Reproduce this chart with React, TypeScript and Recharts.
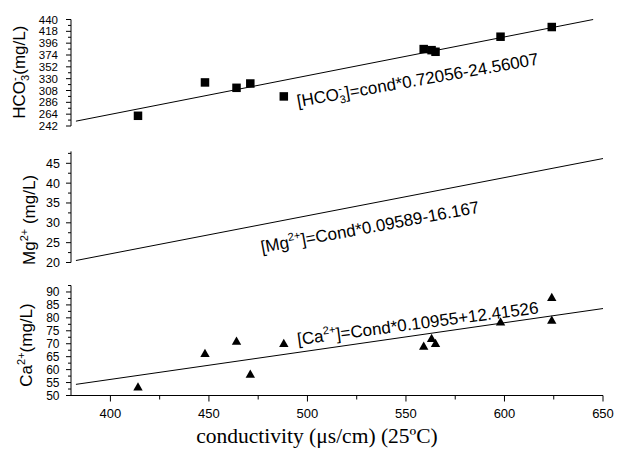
import React from 'react';
import { ComposedChart, Scatter, XAxis, YAxis, ReferenceDot } from 'recharts';

// ---------- data ----------
const hco3Cond = [414, 448, 464, 471, 488, 559, 563, 565, 598, 624];
const hco3Values = [261, 323, 313, 321, 297, 385, 383, 380, 408, 426];

const caCond = [414, 448, 464, 471, 488, 559, 563, 565, 598, 624, 624];
const caValues = [53.4, 66.3, 71.1, 58.3, 70.2, 69.1, 72.1, 70.2, 78.5, 88.0, 79.2];

// regression line end points
const hco3FitCond = [382.5, 645];
const hco3FitValues = [251, 440];
const mgFitCond = [382.5, 650];
const mgFitValues = [20.5, 46.2];
const caFitCond = [382.5, 650];
const caFitValues = [54.3, 83.6];

// ticks
const xTicks = [400, 425, 450, 475, 500, 525, 550, 575, 600, 625, 650];
const xMajor = [400, 450, 500, 550, 600, 650];
const hco3Ticks = [242, 253, 264, 275, 286, 297, 308, 319, 330, 341, 352, 363, 374, 385, 396, 407, 418, 429, 440];
const hco3Major = [242, 264, 286, 308, 330, 352, 374, 396, 418, 440];
const mgTicks = [20, 22.5, 25, 27.5, 30, 32.5, 35, 37.5, 40, 42.5, 45, 47.5];
const mgMajor = [20, 25, 30, 35, 40, 45];
const caTicks = [50, 52.5, 55, 57.5, 60, 62.5, 65, 67.5, 70, 72.5, 75, 77.5, 80, 82.5, 85, 87.5, 90, 92.5];
const caMajor = [50, 55, 60, 65, 70, 75, 80, 85, 90];

const zip = (xs: number[], ys: number[]) => xs.map((x, i) => ({ x, y: ys[i] }));
const hco3Data = zip(hco3Cond, hco3Values);
const caData = zip(caCond, caValues);
const hco3Fit = zip(hco3FitCond, hco3FitValues);
const mgFit = zip(mgFitCond, mgFitValues);
const caFit = zip(caFitCond, caFitValues);

// ---------- styles ----------
const SANS = "'Liberation Sans', Arial, Helvetica, sans-serif";
const SERIF = "'Liberation Serif', 'Times New Roman', serif";
const W = 617;
const X_DOMAIN: [number, number] = [380, 650];

const makeYTick = (majors: number[], gap: number, fs: number) => (props: any) => {
  const { x, y, payload } = props;
  const v = payload.value;
  const isMajor = majors.includes(v);
  return (
    <g>
      <line x1={x} x2={x - (isMajor ? 5 : 3)} y1={y} y2={y} stroke="#000" strokeWidth={1} />
      {isMajor && (
        <text x={x - gap} y={y} dy="0.36em" textAnchor="end" fontSize={fs} fontFamily={SANS} fill="#000">
          {v}
        </text>
      )}
    </g>
  );
};

const XTick = (props: any) => {
  const { x, y, payload } = props;
  const v = payload.value;
  const isMajor = xMajor.includes(v);
  return (
    <g>
      <line x1={x} x2={x} y1={y} y2={y + (isMajor ? 6 : 4)} stroke="#000" strokeWidth={1} />
      {isMajor && (
        <text x={x} y={y + 22.5} textAnchor="middle" fontSize={13} fontFamily={SANS} fill="#000">
          {v}
        </text>
      )}
    </g>
  );
};

const Square = (p: any) => <rect x={p.cx - 4.25} y={p.cy - 4.25} width={8.5} height={8.5} fill="#000" />;
const Triangle = (p: any) => (
  <polygon points={`${p.cx},${p.cy - 4.5} ${p.cx + 4.7},${p.cy + 3.8} ${p.cx - 4.7},${p.cy + 3.8}`} fill="#000" />
);
const NoShape = () => <g />;

const vbOf = (p: any) => p.viewBox || { x: p.x, y: p.y, width: p.width, height: p.height };

// equation texts
const EqHCO3 = (p: any) => {
  const { x, y } = vbOf(p);
  return (
    <text x={x} y={y} transform={`rotate(-10, ${x}, ${y})`} fontSize={17} fontFamily={SANS} fill="#000">
      <tspan>[HCO</tspan>
      <tspan dy={4} fontSize={11}>3</tspan>
      <tspan dx={-6} dy={-11} fontSize={11}>-</tspan>
      <tspan dx={2.5} dy={7}>]=cond*0.72056-24.56007</tspan>
    </text>
  );
};
const EqMg = (p: any) => {
  const { x, y } = vbOf(p);
  return (
    <text x={x} y={y} transform={`rotate(-10.5, ${x}, ${y})`} fontSize={17} fontFamily={SANS} fill="#000">
      <tspan>[Mg</tspan>
      <tspan dy={-7} fontSize={11}>2+</tspan>
      <tspan dy={7}>]=Cond*0.09589-16.167</tspan>
    </text>
  );
};
const EqCa = (p: any) => {
  const { x, y } = vbOf(p);
  return (
    <text x={x} y={y} transform={`rotate(-7.5, ${x}, ${y})`} fontSize={17} fontFamily={SANS} fill="#000">
      <tspan>[Ca</tspan>
      <tspan dy={-7} fontSize={11}>2+</tspan>
      <tspan dy={7}>]=Cond*0.10955+12.41526</tspan>
    </text>
  );
};

// axis titles
const makeYLabel = (kind: 'hco3' | 'mg' | 'ca', dx: number, dyc: number) => (p: any) => {
  const vb = vbOf(p);
  const bx = vb.x + dx;
  const cy = vb.y + vb.height / 2 + dyc;
  let content: React.ReactNode;
  if (kind === 'hco3') {
    content = (
      <>
        <tspan>HCO</tspan>
        <tspan dy={4} fontSize={11}>3</tspan>
        <tspan dx={-6} dy={-11} fontSize={11}>-</tspan>
        <tspan dx={2.5} dy={7}>(mg/L)</tspan>
      </>
    );
  } else if (kind === 'mg') {
    content = (
      <>
        <tspan>Mg</tspan>
        <tspan dy={-7} fontSize={11}>2+</tspan>
        <tspan dy={7}> (mg/L)</tspan>
      </>
    );
  } else {
    content = (
      <>
        <tspan>Ca</tspan>
        <tspan dy={-7} fontSize={11}>2+</tspan>
        <tspan dy={7}>(mg/L)</tspan>
      </>
    );
  }
  return (
    <text x={bx} y={cy} transform={`rotate(-90, ${bx}, ${cy})`} textAnchor="middle" fontSize={17} fontFamily={SANS} fill="#000">
      {content}
    </text>
  );
};

const XLabel = (p: any) => {
  const vb = vbOf(p);
  return (
    <text x={vb.x + 246} y={vb.y + 47.5} textAnchor="middle" fontSize={21.5} fontFamily={SERIF} fill="#000">
      conductivity (μs/cm) (25ºC)
    </text>
  );
};

const axisLine = { stroke: '#000', strokeWidth: 1 };
const fitLine = { stroke: '#000', strokeWidth: 1 };

export default function App() {
  return (
    <div style={{ position: 'absolute', left: 0, top: 0, width: W, height: 450, background: '#fff' }}>
      {/* HCO3 panel */}
      <div style={{ position: 'absolute', left: 0, top: 0 }}>
        <ComposedChart width={W} height={140} margin={{ top: 19.5, right: 14, bottom: 14, left: 11 }}>
          <XAxis type="number" dataKey="x" domain={X_DOMAIN} hide />
          <YAxis
            type="number"
            dataKey="y"
            domain={[242, 440]}
            ticks={hco3Ticks}
            interval={0}
            width={60}
            tickSize={0}
            tickMargin={0}
            tickLine={false}
            axisLine={axisLine}
            tick={makeYTick(hco3Major, 13, 11.5)}
            label={{ content: makeYLabel('hco3', 14, -0.5) }}
          />
          <Scatter data={hco3Fit} line={fitLine} shape={NoShape} isAnimationActive={false} />
          <Scatter data={hco3Data} shape={Square} isAnimationActive={false} />
          <ReferenceDot x={495.2} y={277.3} r={0} fill="none" stroke="none" label={{ content: EqHCO3 }} />
        </ComposedChart>
      </div>

      {/* Mg panel */}
      <div style={{ position: 'absolute', left: 0, top: 140 }}>
        <ComposedChart width={W} height={130} margin={{ top: 11.4, right: 14, bottom: 7.5, left: 11 }}>
          <XAxis type="number" dataKey="x" domain={X_DOMAIN} hide />
          <YAxis
            type="number"
            dataKey="y"
            domain={[20, 48]}
            ticks={mgTicks}
            interval={0}
            width={60}
            tickSize={0}
            tickMargin={0}
            tickLine={false}
            axisLine={axisLine}
            tick={makeYTick(mgMajor, 11, 12.5)}
            label={{ content: makeYLabel('mg', 24, 13) }}
          />
          <Scatter data={mgFit} line={fitLine} shape={NoShape} isAnimationActive={false} />
          <ReferenceDot x={476.9} y={22.4} r={0} fill="none" stroke="none" label={{ content: EqMg }} />
        </ComposedChart>
      </div>

      {/* Ca panel */}
      <div style={{ position: 'absolute', left: 0, top: 270 }}>
        <ComposedChart width={W} height={180} margin={{ top: 15.5, right: 14, bottom: 0, left: 11 }}>
          <XAxis
            type="number"
            dataKey="x"
            domain={X_DOMAIN}
            ticks={xTicks}
            interval={0}
            height={54.5}
            tickSize={0}
            tickMargin={0}
            tickLine={false}
            axisLine={axisLine}
            tick={XTick}
            label={{ content: XLabel }}
          />
          <YAxis
            type="number"
            dataKey="y"
            domain={[50, 92.5]}
            ticks={caTicks}
            interval={0}
            width={60}
            tickSize={0}
            tickMargin={0}
            tickLine={false}
            axisLine={axisLine}
            tick={makeYTick(caMajor, 11.5, 12)}
            label={{ content: makeYLabel('ca', 21, 4.5) }}
          />
          <Scatter data={caFit} line={fitLine} shape={NoShape} isAnimationActive={false} />
          <Scatter data={caData} shape={Triangle} isAnimationActive={false} />
          <ReferenceDot x={495.2} y={69.5} r={0} fill="none" stroke="none" label={{ content: EqCa }} />
        </ComposedChart>
      </div>
    </div>
  );
}
